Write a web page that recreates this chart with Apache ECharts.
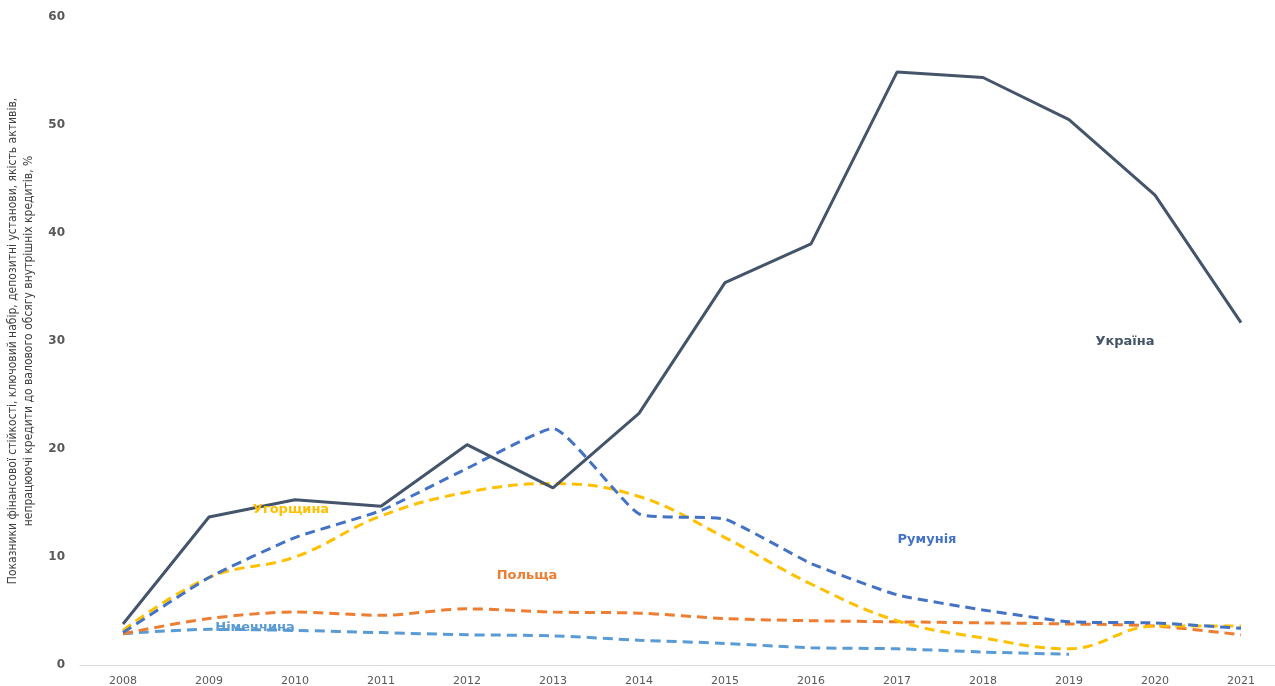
<!DOCTYPE html>
<html>
<head>
<meta charset="utf-8">
<title>Непрацюючі кредити</title>
<script src="https://cdn.jsdelivr.net/npm/echarts@6/dist/echarts.min.js"></script>
<style>
  html, body { margin: 0; padding: 0; background: #fff; }
  #chart { width: 1275px; height: 686px; }
</style>
</head>
<body>
<div id="chart"></div>
<script>
// Роки
const years = ['2008','2009','2010','2011','2012','2013','2014','2015','2016','2017','2018','2019','2020','2021'];

// Частка непрацюючих кредитів, %
const ukraine = [3.8, 13.7, 15.3, 14.7, 20.4, 16.4, 23.3, 35.4, 39.0, 54.9, 54.4, 50.5, 43.5, 31.7];
const romania = [3.0, 8.1, 11.8, 14.3, 18.2, 21.9, 14.0, 13.5, 9.4, 6.5, 5.1, 4.0, 3.9, 3.4];
const hungary = [3.2, 8.1, 10.0, 13.8, 16.0, 16.8, 15.6, 11.8, 7.5, 4.1, 2.5, 1.5, 3.6, 3.6];
const poland  = [2.9, 4.3, 4.9, 4.6, 5.2, 4.9, 4.8, 4.3, 4.1, 4.0, 3.9, 3.8, 3.6, 2.8];
const germany = [2.9, 3.3, 3.2, 3.0, 2.8, 2.7, 2.3, 2.0, 1.6, 1.5, 1.2, 1.0, null, null];

// Межі осі Y
const yMin = 0, yMax = 60, yStep = 10;

const yTitle = 'Показники фінансової стійкості, ключовий набір, депозитні установи, якість активів,\nнепрацюючі кредити до валового обсягу внутрішніх кредитів, %';

const chart = echarts.init(document.getElementById('chart'), null, { renderer: 'canvas' });

function dashedSeries(name, data, color, smooth) {
  return {
    name, type: 'line', data, smooth,
    symbol: 'none', connectNulls: false,
    lineStyle: { color, width: 3, type: [10, 6], cap: 'butt' },
    z: 2
  };
}

const labelFont = 'bold 13px "DejaVu Sans", Verdana, sans-serif';
function seriesName(text, x, y, color) {
  return {
    type: 'text', x, y,
    style: { text, fill: color, font: labelFont, textAlign: 'center', textVerticalAlign: 'middle' },
    z: 10
  };
}

chart.setOption({
  animation: false,
  backgroundColor: '#ffffff',
  grid: { left: 80, right: -9, top: 17, bottom: 21, outerBoundsMode: 'none', containLabel: false },
  xAxis: {
    type: 'category',
    data: years,
    boundaryGap: true,
    axisLine: { show: true, lineStyle: { color: '#d9d9d9', width: 1 } },
    axisTick: { show: false },
    axisLabel: { color: '#595959', fontSize: 11, fontFamily: '"DejaVu Sans", Verdana, sans-serif', margin: 11 },
    splitLine: { show: false }
  },
  yAxis: {
    type: 'value',
    min: yMin, max: yMax, interval: yStep,
    axisLine: { show: false },
    axisTick: { show: false },
    splitLine: { show: false },
    axisLabel: { color: '#595959', fontSize: 12, fontWeight: 'bold', fontFamily: '"DejaVu Sans", Verdana, sans-serif', margin: 15 },
    name: yTitle,
    nameLocation: 'middle',
    nameGap: 43,
    nameRotate: 90,
    nameTextStyle: {
      color: '#404040', fontSize: 12, lineHeight: 16,
      fontFamily: '"Liberation Sans Narrow", "Arial Narrow", "DejaVu Sans Condensed", sans-serif'
    }
  },
  series: [
    dashedSeries('Німеччина', germany, '#5b9bd5', 0.3),
    dashedSeries('Польща', poland, '#ed7d31', 0.3),
    dashedSeries('Угорщина', hungary, '#ffc000', 0.4),
    dashedSeries('Румунія', romania, '#4472c4', 0.15),
    {
      name: 'Україна', type: 'line', data: ukraine, smooth: false,
      symbol: 'none',
      lineStyle: { color: '#44546a', width: 3 },
      z: 3
    }
  ],
  graphic: [
    seriesName('Україна', 1125, 342, '#44546a'),
    seriesName('Румунія', 927, 540, '#4472c4'),
    seriesName('Угорщина', 291, 510, '#ffc000'),
    seriesName('Польща', 527, 576, '#ed7d31'),
    seriesName('Німеччина', 255, 628, '#5b9bd5')
  ]
});
</script>
</body>
</html>
